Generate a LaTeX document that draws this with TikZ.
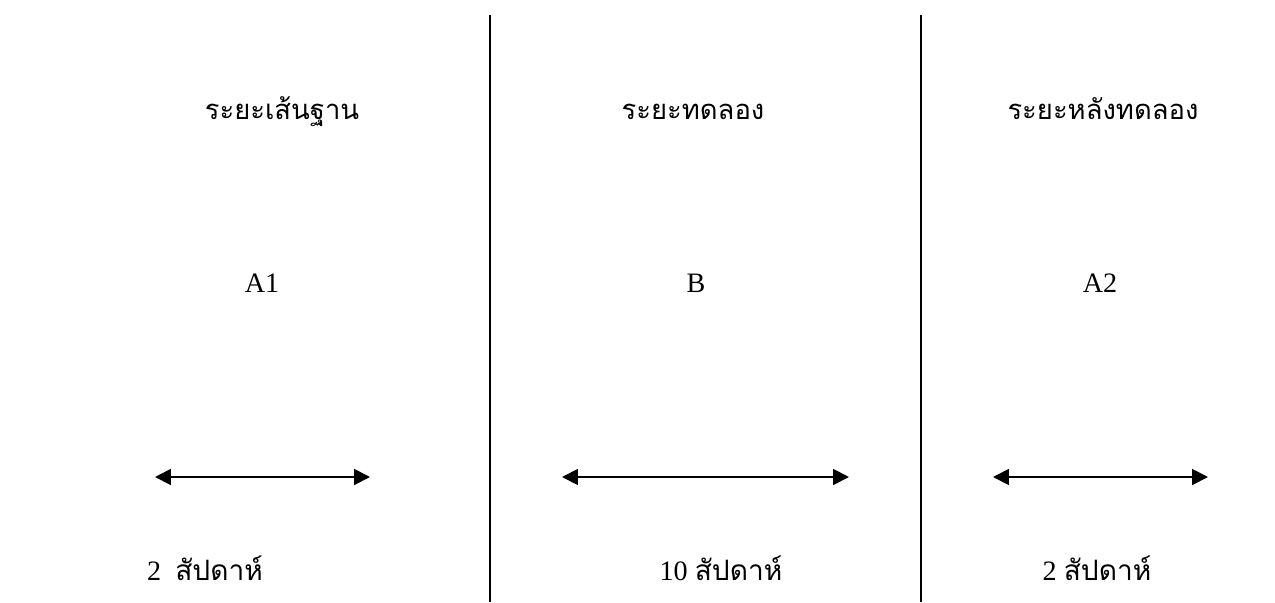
\documentclass[tikz,border=0pt]{standalone}
\usepackage{fontspec}
\setmainfont{Liberation Serif}
\newfontfamily\thaifont[Script=Thai]{Loma}
\usetikzlibrary{arrows.meta}
\newcommand{\phaseline}[2]{\draw[line width=1.1pt] (#1) -- (#2);}
\newcommand{\spanarrow}[2]{\draw[line width=1.1pt,{Triangle[length=9pt,width=9pt]}-{Triangle[length=9pt,width=9pt]}] (#1) -- (#2);}
\tikzset{
  phasename/.style={anchor=base,inner sep=0pt,font=\fontsize{15.6}{18}\selectfont\thaifont},
  grouplabel/.style={anchor=base,inner sep=0pt,font=\fontsize{16}{19}\selectfont},
  weeklabel/.style={anchor=base,inner sep=0pt,font=\fontsize{16}{19}\selectfont}
}

\begin{document}
\begin{tikzpicture}[x=0.02cm,y=-0.02cm]
\useasboundingbox (0,0) rectangle (1275,602);
% dividing lines
\coordinate (l1top) at (490,15);
\coordinate (l1bot) at (490,602);
\coordinate (l2top) at (921,15);
\coordinate (l2bot) at (921,602);
\phaseline{l1top}{l1bot}
\phaseline{l2top}{l2bot}
% phase names
\node[phasename] (base) at (282,119) {ระยะเส้นฐาน};
\node[phasename] (trial) at (693,119) {ระยะทดลอง};
\node[phasename] (after) at (1103,119) {ระยะหลังทดลอง};
% group labels
\node[grouplabel] (ga1) at (262,292) {A1};
\node[grouplabel] (gb) at (696,292) {B};
\node[grouplabel] (ga2) at (1100,292) {A2};
% arrows
\coordinate (a1l) at (155,477);
\coordinate (a1r) at (370,477);
\coordinate (a2l) at (562,477);
\coordinate (a2r) at (849,477);
\coordinate (a3l) at (993,477);
\coordinate (a3r) at (1208,477);
\spanarrow{a1l}{a1r}
\spanarrow{a2l}{a2r}
\spanarrow{a3l}{a3r}
% week labels
\node[weeklabel] (w1) at (205,580) {2\ \ {\thaifont สัปดาห์}};
\node[weeklabel] (w2) at (721,580) {10 {\thaifont สัปดาห์}};
\node[weeklabel] (w3) at (1097,580) {2 {\thaifont สัปดาห์}};
\end{tikzpicture}
\end{document}
